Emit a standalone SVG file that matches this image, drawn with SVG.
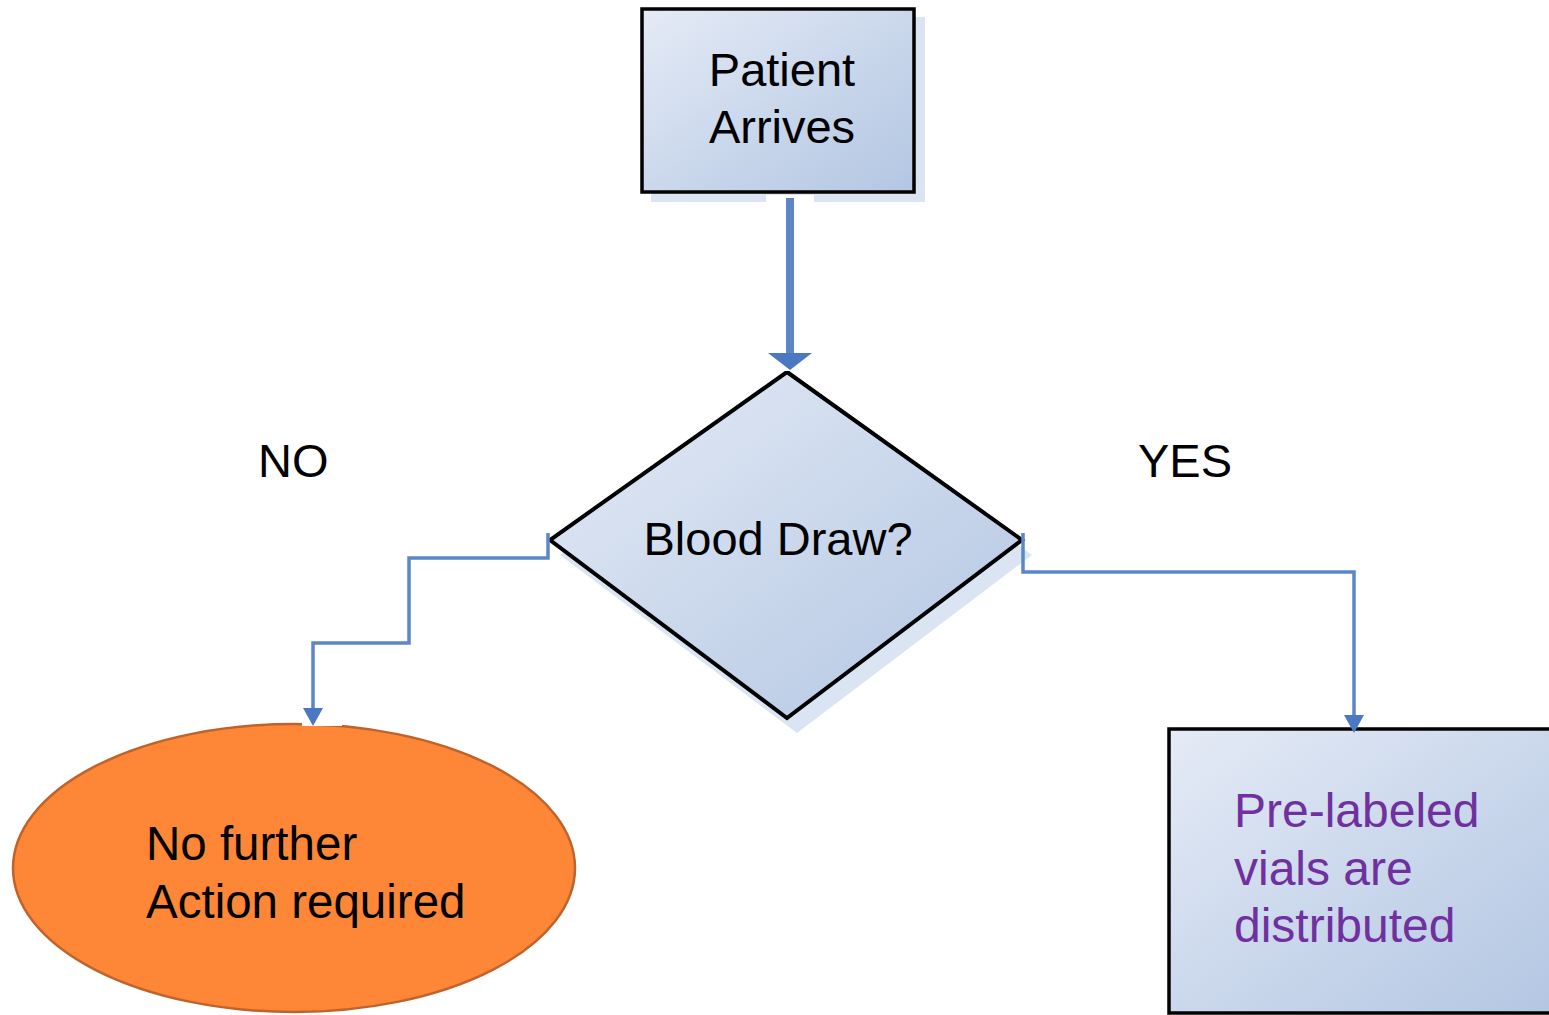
<svg xmlns="http://www.w3.org/2000/svg" width="1549" height="1015" viewBox="0 0 1549 1015">
<defs>
<linearGradient id="g" x1="0" y1="0" x2="1" y2="1">
<stop offset="0" stop-color="#e5ebf6"/>
<stop offset="0.5" stop-color="#cbd8ec"/>
<stop offset="1" stop-color="#b3c6e2"/>
</linearGradient>
<style>
.shadow{fill:#dbe4f3}
.box{fill:url(#g);stroke:#000;stroke-width:3.5}
.t{font-family:"Liberation Sans",Arial,sans-serif;font-size:47px;fill:#000}
.conn{fill:none;stroke:#5b87c9;stroke-width:3.5}
.head{fill:#4a78c2}
</style>
</defs>
<rect width="1549" height="1015" fill="#fff"/>

<g id="patient-arrives">
<rect class="shadow" x="651" y="17" width="274" height="185"/>
<rect class="box" x="642" y="9" width="272" height="183"/>
<text class="t" x="782" y="86" text-anchor="middle">Patient</text>
<text class="t" x="782" y="143" text-anchor="middle">Arrives</text>
</g>

<g id="blood-draw">
<polygon class="shadow" points="797,387 1032,555 797,733 560,555"/>
<polygon class="box" points="787,372 1022,540 787,718 550,540" style="stroke-width:4"/>
<text class="t" x="778" y="555" text-anchor="middle">Blood Draw?</text>
</g>

<g id="no-action">
<ellipse cx="294" cy="868" rx="281" ry="144" fill="#fd8637" stroke="#bf632b" stroke-width="2.5"/>
<text class="t" x="146" y="860" style="font-size:47.5px">No further</text>
<text class="t" x="146" y="918" style="font-size:47.5px">Action required</text>
</g>

<g id="vials">
<rect class="box" x="1169" y="729" width="390" height="284"/>
<text class="t" x="1234" y="827" style="fill:#7030a0;font-size:48px">Pre-labeled</text>
<text class="t" x="1234" y="885" style="fill:#7030a0;font-size:48px">vials are</text>
<text class="t" x="1234" y="942" style="fill:#7030a0;font-size:48px">distributed</text>
</g>

<g id="labels">
<text class="t" x="258" y="477">NO</text>
<text class="t" x="1138" y="477">YES</text>
</g>

<g id="connectors">
<rect x="766" y="195" width="48" height="10" fill="#fff"/>
<rect x="766" y="352" width="48" height="19" fill="#fff"/>
<rect x="786" y="198" width="8" height="158" fill="#5b87c9"/>
<polygon class="head" points="768,353 812,353 790,370"/>
<rect x="302" y="718" width="40" height="8" fill="#fff"/>
<polyline class="conn" points="548,533 548,558 409,558 409,643 313,643 313,709"/>
<polygon class="head" points="303,708 323,708 313,726"/>
<polyline class="conn" points="1023,533 1023,572 1354,572 1354,716"/>
<polygon class="head" points="1344,715 1364,715 1354,733"/>
</g>
</svg>
